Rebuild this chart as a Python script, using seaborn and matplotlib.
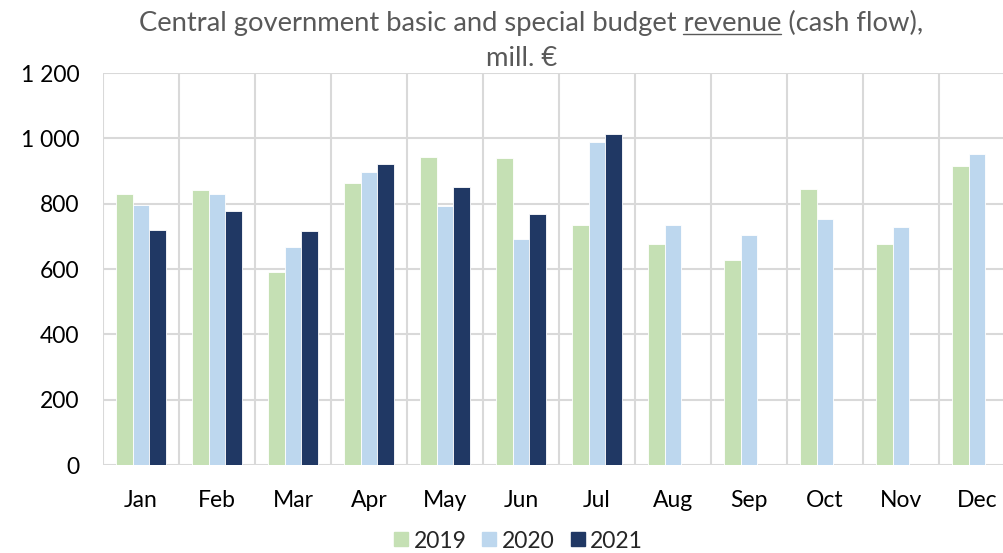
import pandas as pd
import matplotlib
matplotlib.use("Agg")
import matplotlib.pyplot as plt
import seaborn as sns
from matplotlib.ticker import FuncFormatter, MultipleLocator
from matplotlib.lines import Line2D

# values (mill. EUR)
months = ["Jan", "Feb", "Mar", "Apr", "May", "Jun", "Jul", "Aug", "Sep", "Oct", "Nov", "Dec"]
rev_2019 = [829, 841, 590, 864, 942, 941, 736, 676, 628, 845, 677, 915]
rev_2020 = [796, 831, 668, 896, 793, 691, 989, 735, 704, 753, 728, 953]
rev_2021 = [719, 778, 715, 920, 851, 767, 1012]
years = ["2019", "2020", "2021"]
colors = ["#C5E0B4", "#BDD7EE", "#203864"]

rows = []
for yr, vals in zip(years, [rev_2019, rev_2020, rev_2021]):
    for m, v in zip(months, vals):
        rows.append({"month": m, "year": yr, "value": v})
df = pd.DataFrame(rows)

sns.set_style("white")
plt.rcParams["font.family"] = ["Lato", "DejaVu Sans"]

fig = plt.figure(figsize=(10.04, 5.53), dpi=100)
ax = fig.add_axes([103 / 1004, 88 / 553, 912 / 1004, 392 / 553])

sns.barplot(data=df, x="month", y="value", hue="year", order=months, hue_order=years,
            palette=colors, saturation=1, width=0.67, edgecolor="white", linewidth=0.6,
            errorbar=None, ax=ax, zorder=3)

ax.set_ylim(0, 1200)
ax.set_xlim(-0.5, 11.5)
ax.yaxis.set_major_locator(MultipleLocator(200))
ax.yaxis.set_major_formatter(FuncFormatter(lambda v, p: f"{int(v):,}".replace(",", " ")))
ax.set_xticks([i + 0.5 for i in range(-1, 12)], minor=True)
ax.grid(axis="y", which="major", color="#D9D9D9", linewidth=1.5, zorder=0)
ax.grid(axis="x", which="minor", color="#D9D9D9", linewidth=1.5, zorder=0)
ax.grid(axis="x", which="major", visible=False)
for s in ax.spines.values():
    s.set_visible(False)
ax.tick_params(axis="both", which="both", length=0)
ax.tick_params(axis="y", labelsize=16.5, pad=17, labelcolor="#000000")
ax.tick_params(axis="x", labelsize=16.5, pad=18, labelcolor="#000000")
ax.set_xlabel(None)
ax.set_ylabel(None)

# legend
ax.get_legend().remove()
handles = [Line2D([], [], marker="s", linestyle="none", markersize=10,
                  markerfacecolor=c, markeredgecolor=c) for c in colors]
fig.legend(handles, years, loc="center", bbox_to_anchor=(518 / 1004, 12 / 553),
           ncol=3, frameon=False, fontsize=16.5, handletextpad=0.2,
           columnspacing=0.65, handlelength=0.7)

# title with underlined word
title_col = "#595959"
fs = 19.7
line1 = "Central government basic and special budget revenue (cash flow),"
cx = 531 / 1004
t1 = fig.text(cx, 1 - 23 / 553, line1, ha="center", va="center", fontsize=fs, color=title_col)
fig.text(522 / 1004, 1 - 59 / 553, "mill. €", ha="center", va="center", fontsize=fs, color=title_col)

fig.canvas.draw()
r = fig.canvas.get_renderer()
bb = t1.get_window_extent(r)
def width(s):
    t = fig.text(0, 0, s, fontsize=fs)
    w = t.get_window_extent(r).width
    t.remove()
    return w
w_a = width("Central government basic and special budget revenue")
w_r = width("revenue")
x_end = bb.x0 + w_a
x_start = x_end - w_r
y_line = bb.y0 + 2
fig.add_artist(Line2D([x_start / 1004, x_end / 1004], [y_line / 553, y_line / 553],
                      color=title_col, linewidth=1.0, transform=fig.transFigure))

fig.savefig("out.png", dpi=100)
